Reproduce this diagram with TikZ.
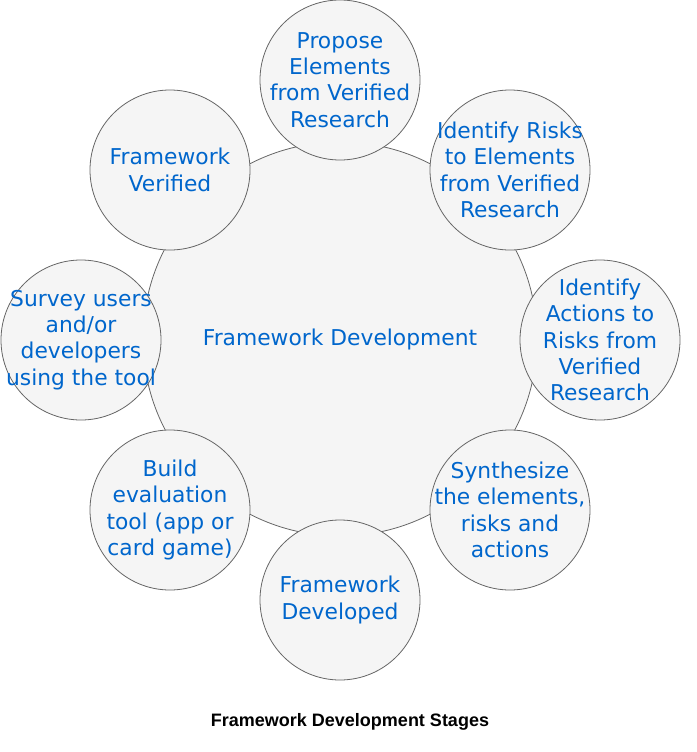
\documentclass[tikz,border=0pt]{standalone}
\usepackage{fontspec}
\setmainfont{DejaVu Sans}
\newfontfamily\titlefont{Liberation Sans}
\definecolor{stagefill}{HTML}{F5F5F5}
\definecolor{stageline}{HTML}{666666}
\definecolor{stagetext}{HTML}{0066CC}
\begin{document}
\begin{tikzpicture}[x=1pt,y=-1pt,
  stagelabel/.style={text=stagetext,font=\fontsize{21.8}{26.3}\selectfont,align=center,inner sep=0pt},
  hub/.style={circle,draw=stageline,fill=stagefill,line width=0.8pt,minimum size=394pt,inner sep=0pt},
  stage/.style={circle,draw=stageline,fill=stagefill,line width=0.8pt,minimum size=160pt,inner sep=0pt}]
\useasboundingbox (0,0) rectangle (696,752);
\node[hub,label={[stagelabel]center:Framework Development}] (hub) at (340,339) {};
\node[stage,label={[stagelabel]center:Propose\\Elements\\from Verified\\Research}] (s1) at (340,80) {};
\node[stage,label={[stagelabel]center:Identify Risks\\to Elements\\from Verified\\Research}] (s2) at (510,170) {};
\node[stage,label={[stagelabel]center:Identify\\Actions to\\Risks from\\Verified\\Research}] (s3) at (600,340) {};
\node[stage,label={[stagelabel]center:Synthesize\\the elements,\\risks and\\actions}] (s4) at (510,510) {};
\node[stage,label={[stagelabel]center:Framework\\Developed}] (s5) at (340,600) {};
\node[stage,label={[stagelabel]center:Build\\evaluation\\tool (app or\\card game)}] (s6) at (170,510) {};
\node[stage,label={[stagelabel]center:Survey users\\and/or\\developers\\using the tool}] (s7) at (81,340) {};
\node[stage,label={[stagelabel]center:Framework\\Verified}] (s8) at (170,170) {};
\node[font=\titlefont\bfseries\fontsize{18}{21}\selectfont] (title) at (350,722) {Framework Development Stages};
\end{tikzpicture}
\end{document}
